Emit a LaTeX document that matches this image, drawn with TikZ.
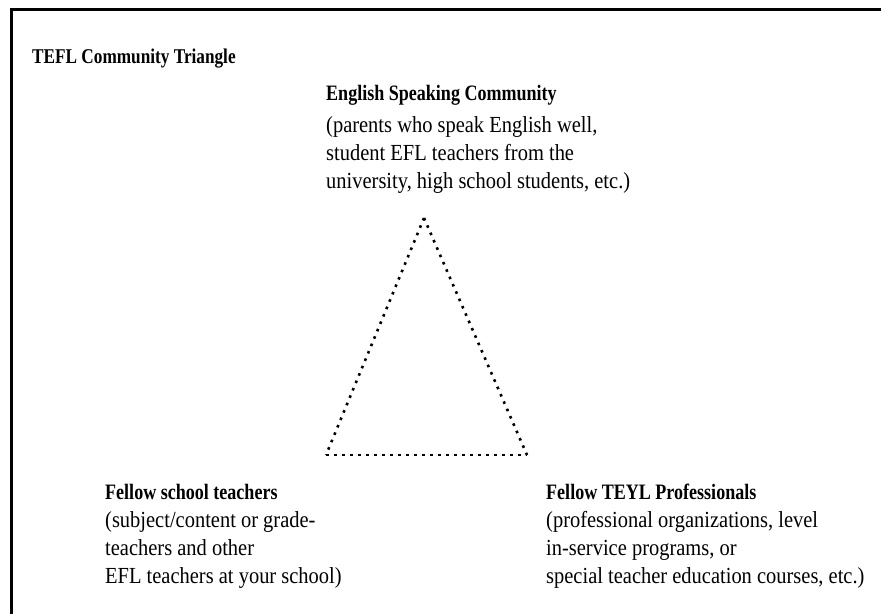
\documentclass[tikz,border=0pt]{standalone}
\usepackage{fontspec}
\setmainfont{Liberation Serif}[FakeStretch=0.89,BoldFeatures={FakeStretch=0.82}]
\begin{document}
\begin{tikzpicture}[x=1pt,y=-1pt,
  txt/.style={anchor=base west,inner sep=0pt,align=left,font=\fontsize{23}{28}\selectfont},
  hd/.style={font=\fontsize{22}{28}\selectfont\bfseries},
  dots/.style={line width=2.6pt,dash pattern=on 2.6pt off 5.4pt,line cap=butt}]
\useasboundingbox (0,0) rectangle (881,614);
\fill[white] (0,0) rectangle (881,614);
\coordinate (fl) at (11.5,614);
\coordinate (ftl) at (11.5,9.5);
\coordinate (fr) at (881,9.5);
\draw[line width=3pt] (fl) -- (ftl) -- (fr);
% multi-line nodes: base anchor is the baseline of the last line
\node[txt,font=\fontsize{21}{28}\selectfont\bfseries] (title) at (32,63) {TEFL Community Triangle};
\node[txt] (top) at (326,188) {{\fontsize{22}{28}\selectfont\bfseries English Speaking Community}\\[4pt](parents who speak English well,\\student EFL teachers from the\\university, high school students, etc.)};
\node[txt] (left) at (105,583) {{\fontsize{22}{28}\selectfont\bfseries Fellow school teachers}\\(subject/content or grade-\\teachers and other\\EFL teachers at your school)};
\node[txt] (right) at (546,583) {{\fontsize{22}{28}\selectfont\bfseries Fellow TEYL Professionals}\\(professional organizations, level\\in-service programs, or\\special teacher education courses, etc.)};
\coordinate (apex) at (424,218);
\coordinate (bl) at (326,455);
\coordinate (br) at (527,455);
\draw[dots] (apex) -- (bl);
\draw[dots] (apex) -- (br);
\draw[dots] (bl) -- (br);
\end{tikzpicture}
\end{document}
